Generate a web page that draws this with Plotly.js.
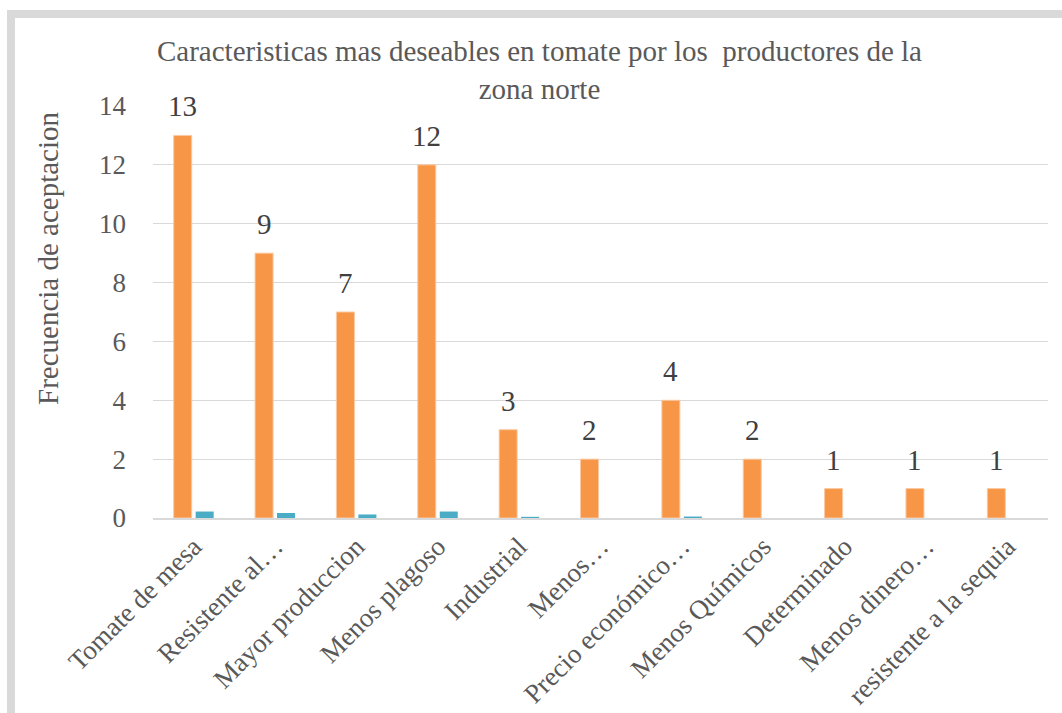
<!DOCTYPE html>
<html>
<head>
<meta charset="utf-8">
<script src="https://cdn.plot.ly/plotly-3.0.1.min.js"></script>
<style>html,body{margin:0;padding:0;background:#fff;}#chart{width:1062px;height:713px;}</style>
</head>
<body>
<div id="chart"></div>
<script>
const categories = ["Tomate de mesa", "Resistente al…", "Mayor produccion", "Menos plagoso", "Industrial", "Menos…", "Precio económico…", "Menos Químicos", "Determinado", "Menos dinero…", "resistente a la sequia"];
const frecuencia = [13, 9, 7, 12, 3, 2, 4, 2, 1, 1, 1];
const proporcion = [0.22, 0.17, 0.12, 0.22, 0.04, 0, 0.05, 0, 0, 0, 0];
const titleText = "Caracteristicas mas deseables en tomate por los  productores de la<br>zona norte";
const yTitle = "Frecuencia de aceptacion";
const yTickVals = [0, 2, 4, 6, 8, 10, 12, 14];

const font = "Liberation Serif";

const traces = [
  {
    type: "bar", x: categories, y: frecuencia, name: "Frecuencia",
    marker: {color: "#F79646", line: {color: "#FBC9A2", width: 1}},
    hoverinfo: "x+y"
  },
  {
    type: "bar", x: categories, y: proporcion, name: "Proporcion",
    marker: {color: "#4BACC6", line: {width: 0}},
    hoverinfo: "x+y"
  }
];

// data labels above orange bars (orange bar is the left bar of each group)
const labelAnnotations = categories.map((c, i) => ({
  x: c, y: frecuencia[i], xref: "x", yref: "y", text: String(frecuencia[i]),
  showarrow: false, xanchor: "center", yanchor: "middle", xshift: -11, yshift: 29,
  font: {family: font, size: 29, color: "#404040"}
}));

const layout = {
  width: 1062, height: 713,
  paper_bgcolor: "#ffffff", plot_bgcolor: "#ffffff",
  margin: {l: 153, r: 14, t: 106, b: 195},
  showlegend: false,
  barmode: "group", bargap: 0.46, bargroupgap: 0.18,
  font: {family: font, color: "#595959"},
  title: {
    text: titleText, font: {family: font, size: 29, color: "#595959", lineposition: "none"},
    x: 0.508, xanchor: "center", y: 1 - 61/713, yanchor: "middle", yref: "container"
  },
  xaxis: {
    type: "category", tickangle: -45, tickfont: {family: font, size: 27, color: "#595959"},
    showgrid: false, showline: true, linecolor: "#d9d9d9", linewidth: 2,
    ticks: "", automargin: false
  },
  yaxis: {
    range: [0, 14], tickvals: yTickVals, ticktext: yTickVals.map(String),
    tickfont: {family: font, size: 27, color: "#595959"},
    showgrid: true, gridcolor: "#d9d9d9", gridwidth: 1, zeroline: false,
    showline: false, ticks: "", ticklen: 0, automargin: false,
    ticklabelstandoff: 26
  },
  annotations: [
    {text: yTitle, xref: "paper", yref: "paper", x: (48 - 153) / 895, y: (518 - 258) / 412,
     xanchor: "center", yanchor: "middle", textangle: -90, showarrow: false,
     font: {family: font, size: 29, color: "#595959"}}
  ].concat(labelAnnotations),
  shapes: [
    {type: "rect", xref: "paper", yref: "paper",
     x0: (11 - 153) / 895, x1: (1075 - 153) / 895,
     y0: (518 - 740) / 412, y1: (518 - 14) / 412,
     line: {color: "#d9d9d9", width: 8}, fillcolor: "rgba(0,0,0,0)", layer: "below"}
  ]
};

Plotly.newPlot("chart", traces, layout, {displayModeBar: false, staticPlot: true});
</script>
</body>
</html>
